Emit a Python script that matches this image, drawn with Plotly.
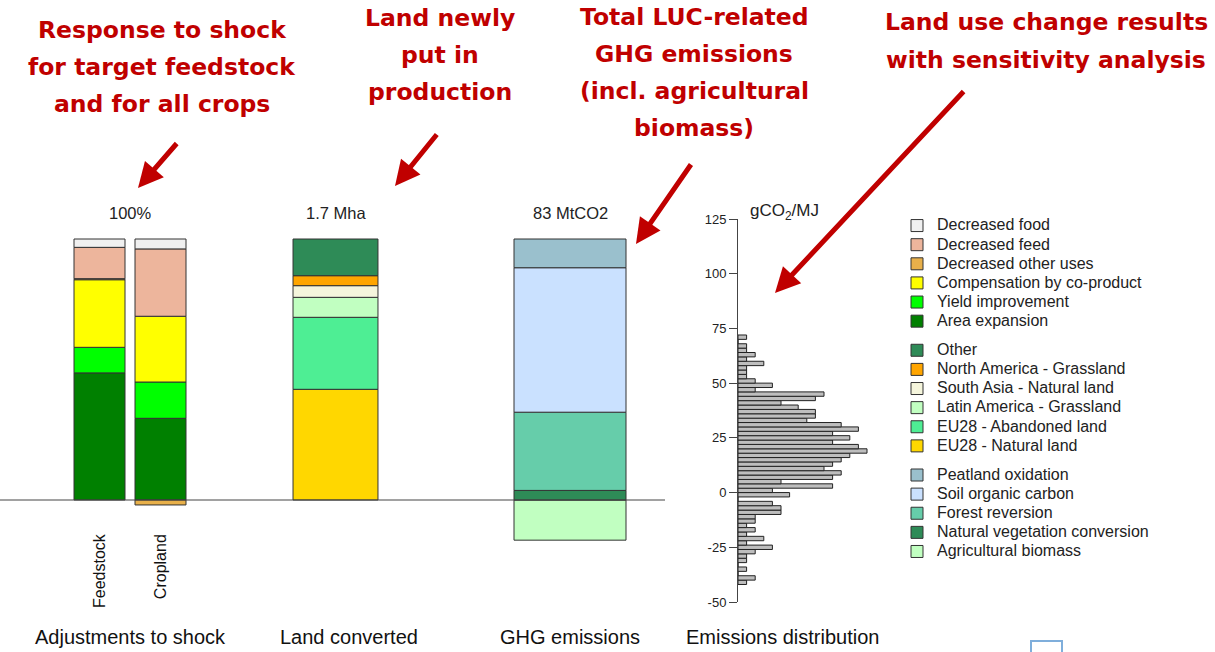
import plotly.graph_objects as go

W, H = 1215, 652

# ---------------- Data ----------------
# Panel 1: Adjustments to shock (% of shock)
adj_categories = ["Feedstock", "Cropland"]
adj_area_expansion = [48.7, 31.3]
adj_yield_improvement = [9.8, 13.9]
adj_coproduct = [25.9, 25.2]
adj_other_uses = [0.4, -1.9]
adj_feed = [12.0, 25.8]
adj_food = [3.2, 3.8]
adj_total_label = "100%"

# Panel 2: Land converted (Mha)
land_category = ["Land converted"]
land_eu28_natural = [0.721]
land_eu28_abandoned = [0.469]
land_latam_grassland = [0.130]
land_sasia_natural = [0.076]
land_namerica_grassland = [0.065]
land_other = [0.239]
land_total_label = "1.7 Mha"

# Panel 3: GHG emissions (MtCO2)
ghg_category = ["GHG emissions"]
ghg_agri_biomass = [-15.1]
ghg_natveg_conversion = [3.6]
ghg_forest_reversion = [29.4]
ghg_soil_organic_carbon = [54.3]
ghg_peatland_oxidation = [10.8]
ghg_total_label = "83 MtCO2"

# Panel 4: Emissions distribution (gCO2/MJ), bin centres and counts
hist_bin_centers = [-41, -39, -37, -35, -33, -31, -29, -27, -25, -23,
                    -21, -19, -17, -15, -13, -11, -9, -7, -5, -3,
                    -1, 1, 3, 5, 7, 9, 11, 13, 15, 17,
                    19, 21, 23, 25, 27, 29, 31, 33, 35, 37,
                    39, 41, 43, 45, 47, 49, 51, 53, 55, 57,
                    59, 61, 63, 65, 67, 69, 71]
hist_counts = [1, 2, 0, 1, 0, 1, 1, 2, 4, 1,
               3, 1, 2, 1, 2, 2, 5, 5, 4, 0,
               6, 4, 11, 5, 11, 12, 10, 11, 12, 13,
               15, 14, 11, 13, 11, 14, 12, 8, 9, 9,
               7, 5, 9, 10, 2, 4, 2, 1, 1, 1,
               3, 1, 2, 1, 1, 0, 1]
hist_ticks = [-50, -25, 0, 25, 50, 75, 100, 125]

# ---------------- Helpers ----------------
def X(p):
    return p / W

def Y(p):
    return 1 - p / H

BASE_PX, TOP_PX = 500, 239        # zero line and top of each stacked bar
DOM_TOP, DOM_BOT = 230, 560       # vertical extent of bar panels


def yrange(top_value):
    k = (BASE_PX - TOP_PX) / top_value
    return [-(DOM_BOT - BASE_PX) / k, (BASE_PX - DOM_TOP) / k]


EDGE = dict(color="#333333", width=1)
FONT = "Liberation Sans, Arial, sans-serif"
LEG = '<span style="font-size:16px">{}</span>'

fig = go.Figure()

# ---- Panel 1 traces (stack bottom -> top) ----
p1 = [
    ("Area expansion", adj_area_expansion, "#008000", 6),
    ("Yield improvement", adj_yield_improvement, "#00FF00", 5),
    ("Compensation by co-product", adj_coproduct, "#FFFF00", 4),
    ("Decreased other uses", adj_other_uses, "#E8B04A", 3),
    ("Decreased feed", adj_feed, "#EDB59C", 2),
    ("Decreased food", adj_food, "#F0F0F0", 1),
]
for name, vals, col, rank in p1:
    fig.add_trace(go.Bar(x=adj_categories, y=vals, xaxis="x", yaxis="y",
                         width=0.836, name=LEG.format(name),
                         marker=dict(color=col, line=EDGE),
                         legendgroup="adj", legendrank=rank,
                         hoverinfo="skip"))

# ---- Panel 2 traces ----
p2 = [
    ("EU28 - Natural land", land_eu28_natural, "#FFD700", 12),
    ("EU28 - Abandoned land", land_eu28_abandoned, "#4EEE94", 11),
    ("Latin America - Grassland", land_latam_grassland, "#C1FFC1", 10),
    ("South Asia - Natural land", land_sasia_natural, "#F5F5DC", 9),
    ("North America - Grassland", land_namerica_grassland, "#FFA500", 8),
    ("Other", land_other, "#2E8B57", 7),
]
for name, vals, col, rank in p2:
    fig.add_trace(go.Bar(x=land_category, y=vals, xaxis="x2", yaxis="y2",
                         width=0.8, name=LEG.format(name),
                         marker=dict(color=col, line=EDGE),
                         legendgroup="land", legendrank=rank,
                         hoverinfo="skip"))

# ---- Panel 3 traces ----
p3 = [
    ("Agricultural biomass", ghg_agri_biomass, "#C1FFC1", 17),
    ("Natural vegetation conversion", ghg_natveg_conversion, "#2E8B57", 16),
    ("Forest reversion", ghg_forest_reversion, "#66CDAA", 15),
    ("Soil organic carbon", ghg_soil_organic_carbon, "#CAE1FF", 14),
    ("Peatland oxidation", ghg_peatland_oxidation, "#9AC0CD", 13),
]
for name, vals, col, rank in p3:
    fig.add_trace(go.Bar(x=ghg_category, y=vals, xaxis="x3", yaxis="y3",
                         width=0.8, name=LEG.format(name),
                         marker=dict(color=col, line=EDGE),
                         legendgroup="ghg", legendrank=rank,
                         hoverinfo="skip"))

# ---- Panel 4 histogram ----
fig.add_trace(go.Bar(y=hist_bin_centers, x=hist_counts, orientation="h",
                     xaxis="x4", yaxis="y4", width=2, showlegend=False,
                     marker=dict(color="#BEBEBE", line=dict(color="#222222", width=1)),
                     hoverinfo="skip"))

# totals for axis scaling
p1_top = sum(v[0] for v in [adj_area_expansion, adj_yield_improvement, adj_coproduct,
                            adj_other_uses, adj_feed, adj_food])
p2_top = sum(v[0] for v in [land_eu28_natural, land_eu28_abandoned, land_latam_grassland,
                            land_sasia_natural, land_namerica_grassland, land_other])
p3_top = sum(v[0] for v in [ghg_natveg_conversion, ghg_forest_reversion,
                            ghg_soil_organic_carbon, ghg_peatland_oxidation])

hidden = dict(visible=False, showgrid=False, zeroline=False, automargin=False)
ydom = [Y(DOM_BOT), Y(DOM_TOP)]

fig.update_layout(
    width=W, height=H, autosize=False,
    margin=dict(l=0, r=0, t=0, b=0, pad=0, autoexpand=False),
    paper_bgcolor="white", plot_bgcolor="rgba(0,0,0,0)",
    font=dict(family=FONT, size=14, color="#222222"),
    barmode="relative",
    xaxis=dict(domain=[X(69), X(191)], range=[-0.5, 1.5], type="category",
               anchor="free", position=Y(530), showline=False, ticks="",
               tickangle=-90, tickfont=dict(size=16, color="#111111"),
               showgrid=False, zeroline=False, fixedrange=True, automargin=False),
    yaxis=dict(domain=ydom, range=yrange(p1_top), anchor="x", **hidden),
    xaxis2=dict(domain=[X(282.4), X(388.6)], range=[-0.5, 0.5], anchor="y2", **hidden),
    yaxis2=dict(domain=ydom, range=yrange(p2_top), anchor="x2", **hidden),
    xaxis3=dict(domain=[X(500), X(640)], range=[-0.5, 0.5], anchor="y3", **hidden),
    yaxis3=dict(domain=ydom, range=yrange(p3_top), anchor="x3", **hidden),
    xaxis4=dict(domain=[X(738), X(738 + 8.6 * 16)], range=[0, 16], anchor="y4", **hidden),
    yaxis4=dict(domain=[Y(602), Y(219)], range=[-50, 125], anchor="x4",
                showline=True, linecolor="#444444", linewidth=1,
                ticks="outside", ticklen=8, tickcolor="#444444", tickwidth=1,
                tickvals=hist_ticks, ticktext=[str(v) for v in hist_ticks],
                tickfont=dict(size=13, color="#222222"),
                showgrid=False, zeroline=False, automargin=False),
    legend=dict(x=X(897), y=Y(211), xanchor="left", yanchor="top",
                font=dict(size=12.4, color="#222222", family=FONT),
                traceorder="grouped", tracegroupgap=10,
                bgcolor="rgba(0,0,0,0)", itemclick=False, itemdoubleclick=False),
    showlegend=True,
)

# zero line across bar panels
fig.add_shape(type="line", xref="paper", yref="y", x0=0, x1=X(665), y0=0, y1=0,
              line=dict(color="#444444", width=1))
# partial logo frame at the bottom-right
fig.add_shape(type="rect", xref="paper", yref="paper", x0=X(1031), x1=X(1062),
              y0=Y(665), y1=Y(641), line=dict(color="#7FAEDB", width=2))

ann = []
C = dict(xref="paper", yref="paper", xanchor="center", yanchor="middle", showarrow=False)
# totals above bars
for txt, cx in [(adj_total_label, 130), (land_total_label, 335.5), (ghg_total_label, 570)]:
    ann.append(dict(text=txt, x=X(cx), y=Y(213), font=dict(size=16.5, color="#222222"), **C))
# panel titles
for txt, cx in [("Adjustments to shock", 130), ("Land converted", 349),
                ("GHG emissions", 569.5), ("Emissions distribution", 782)]:
    ann.append(dict(text=txt, x=X(cx), y=Y(637), font=dict(size=20, color="#111111"), **C))
# y-axis unit
ann.append(dict(text="gCO<sub>2</sub>/MJ", x=X(784), y=Y(212),
                font=dict(size=17, color="#222222"), **C))

# red callouts
RED = "#C00000"
callouts = [
    (162, [30, 67, 104], ["Response to shock", "for target feedstock", "and for all crops"]),
    (440, [18, 55, 92], ["Land newly", "put in", "production"]),
    (694, [17, 54, 91, 128], ["Total LUC-related", "GHG emissions", "(incl. agricultural", "biomass)"]),
    (1046, [22, 60], ["Land use change results", "with sensitivity analysis"]),
]
for cx, ys, lines in callouts:
    for yy, line in zip(ys, lines):
        ann.append(dict(text="<b>" + line + "</b>", x=X(cx), y=Y(yy),
                        font=dict(size=23.5, color=RED, family="DejaVu Sans, Verdana, sans-serif"),
                        **C))

# red arrows (head, tail offset)
for hx, hy, tx, ty in [(138, 188, 178, 142), (395, 186, 438, 133),
                       (636, 244, 692, 163), (775, 293, 965, 90)]:
    ann.append(dict(text="", x=X(hx), y=Y(hy), xref="paper", yref="paper",
                    showarrow=True, ax=tx - hx, ay=ty - hy, arrowhead=2,
                    arrowsize=1, arrowwidth=5, arrowcolor=RED, standoff=0))

fig.update_layout(annotations=ann)

fig.write_html("out.html", config={"displayModeBar": False},
               post_script="document.body.style.margin='0';")
